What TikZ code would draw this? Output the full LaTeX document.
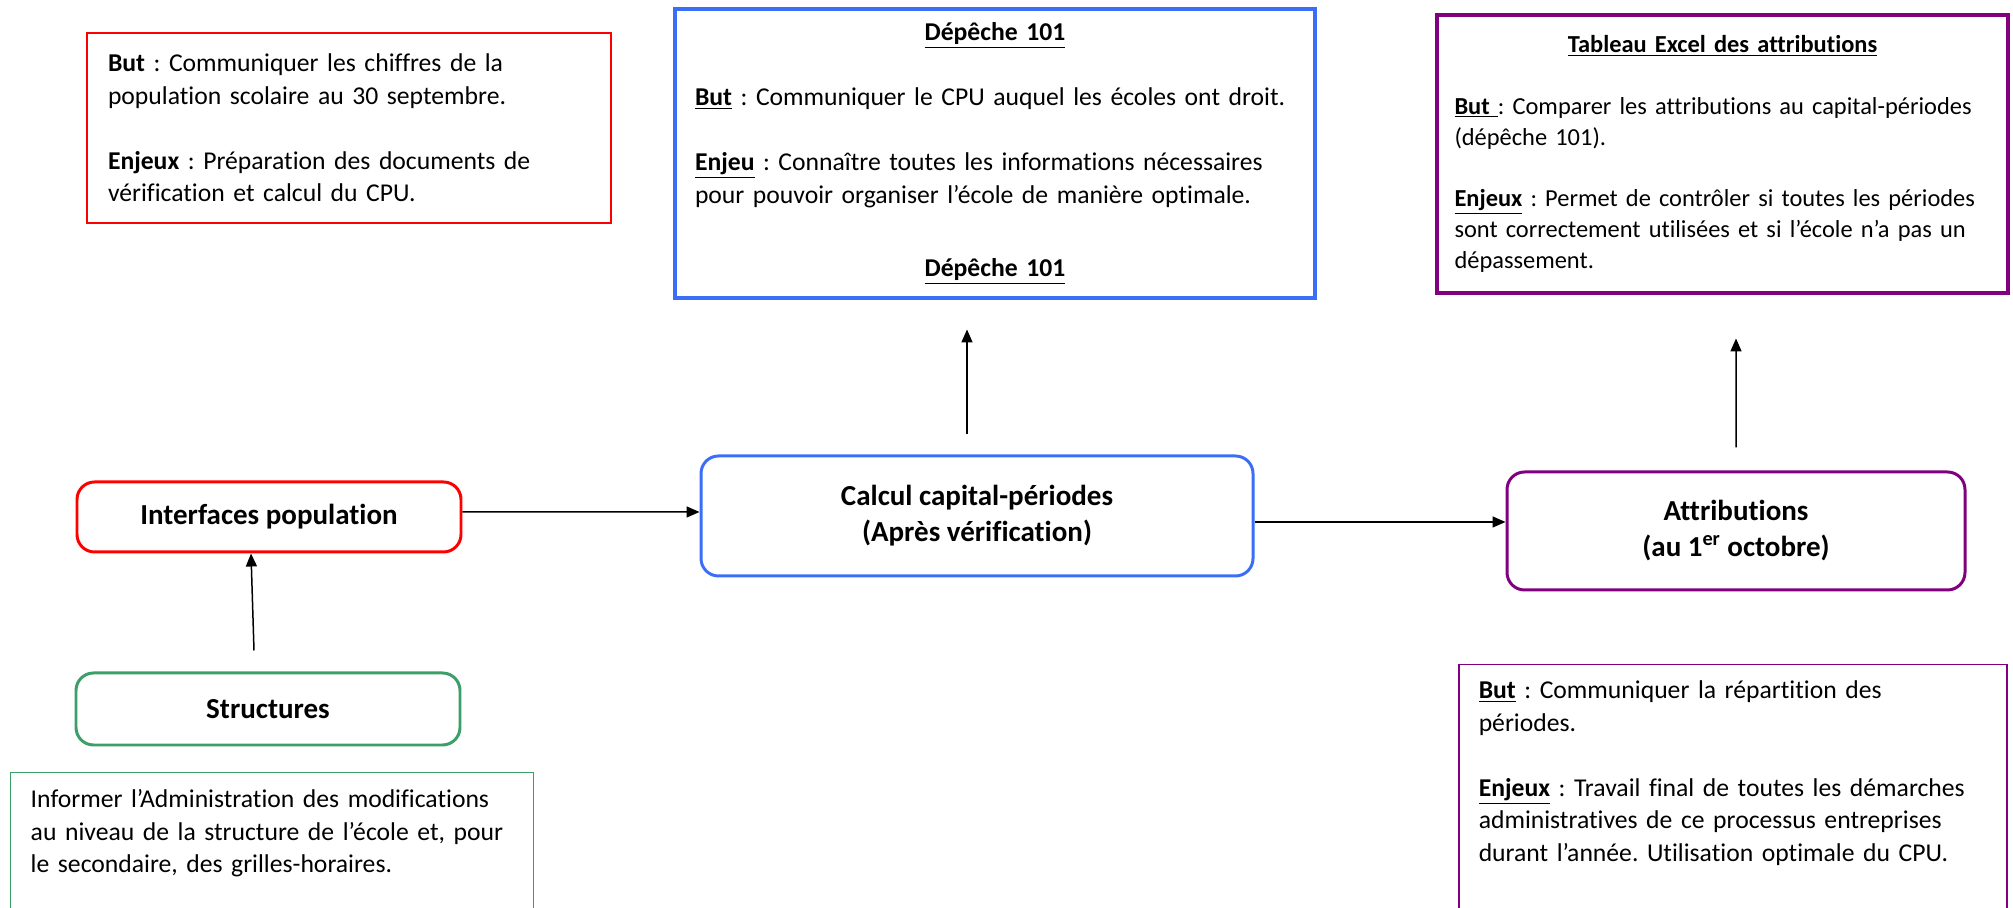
\documentclass[tikz,border=0pt]{standalone}
\usepackage{fontspec}
\setmainfont[Ligatures=NoCommon]{Carlito}
\frenchspacing
\usetikzlibrary{arrows.meta}
\definecolor{rouge}{RGB}{255,0,0}
\definecolor{bleu}{RGB}{59,110,246}
\definecolor{vert}{RGB}{60,158,104}
\definecolor{pourpre}{RGB}{128,0,128}
\tikzset{
    mybox/.style = {rectangle, rounded corners=0.35cm, line width=1.7pt, align=center, font=\fontsize{16.5}{20.5}\selectfont\bfseries},
    myboxr/.style = {mybox, draw=rouge, minimum width=7.68cm, minimum height=1.4cm},
    myboxg/.style = {mybox, draw=vert, minimum width=7.68cm, minimum height=1.44cm},
    myboxb/.style = {mybox, draw=bleu, minimum width=11.04cm, minimum height=2.4cm},
    myboxp/.style = {mybox, draw=pourpre, minimum width=9.16cm, minimum height=2.36cm},
    note/.style = {rectangle, align=left, inner xsep=0.4cm, font=\fontsize{14.6}{18.5}\selectfont},
    noter/.style = {note, draw=rouge, line width=0.85pt, text width=9.64cm, inner xsep=0.42cm, minimum height=3.8cm},
    noteb/.style = {note, draw=bleu, line width=2.8pt, text width=12.0cm, minimum height=5.78cm},
    notep/.style = {note, draw=pourpre, line width=2.8pt, text width=10.72cm, inner xsep=0.35cm, minimum height=5.56cm, font=\fontsize{13.9}{17.6}\selectfont},
    noteg/.style = {note, draw=vert, line width=0.85pt, text width=9.66cm, inner ysep=0.34cm, anchor=north west},
    notepp/.style = {note, draw=pourpre, line width=0.85pt, text width=10.16cm, inner ysep=0.32cm, anchor=north west},
    arrn/.style = {-{Triangle[length=0.26cm,width=0.22cm]}, line width=0.85pt, black}
}
\newcommand{\titre}[1]{\makebox[\linewidth]{\textbf{\underline{#1}}}}
\newcommand{\mot}[1]{\underline{\textbf{#1}}}

\begin{document}
\begin{tikzpicture}
\useasboundingbox (0,0) rectangle (40.26,18.16);
%
\node[myboxr] at (5.38, 7.82) (inter) {Interfaces population};
\node[myboxg] at (5.36, 3.98) (struct) {Structures};
\node[myboxb] at (19.54, 7.84) (calcul) {Calcul capital-périodes\\(Après vérification)};
\node[myboxp] at (34.72, 7.54) (attr) {Attributions\\(au 1\textsuperscript{er} octobre)};
%
\node[noter] at (6.98, 15.6) (butpop) {\textbf{But} : Communiquer les chiffres de la\\ population scolaire au 30 septembre.\\[\baselineskip]
\textbf{Enjeux} : Préparation des documents de\\ vérification et calcul du CPU.};
\node[noteb] at (19.9, 15.09) (depeche) {\titre{Dépêche 101}\\[\baselineskip]
\mot{But} : Communiquer le CPU auquel les écoles ont droit.\\[\baselineskip]
\mot{Enjeu} : Connaître toutes les informations nécessaires\\ pour pouvoir organiser l’école de manière optimale.\\[\dimexpr\baselineskip+5pt]
\titre{Dépêche 101}};
\node[notep] at (34.45, 15.08) (tableau) {\titre{Tableau Excel des attributions}\\[\baselineskip]
\mot{But }: Comparer les attributions au capital-périodes\\ (dépêche 101).\\[\baselineskip]
\mot{Enjeux} : Permet de contrôler si toutes les périodes\\ sont correctement utilisées et si l’école n’a pas un\\ dépassement.};
\node[noteg] at (0.2, 2.72) (info) {Informer l’Administration des modifications\\ au niveau de la structure de l’école et, pour\\ le secondaire, des grilles-horaires.\\[2\baselineskip]\mbox{}};
\node[notepp] at (29.16, 4.88) (repart) {\mot{But} : Communiquer la répartition des\\ périodes.\\[\baselineskip]
\mot{Enjeux} : Travail final de toutes les démarches\\ administratives de ce processus entreprises\\ durant l’année. Utilisation optimale du CPU.\\[\baselineskip]\mbox{}};
%
\coordinate (s1) at ([shift={(-0.28,0.42)}]struct.north);
\coordinate (c1) at ([shift={(-0.2,0.4)}]calcul.north);
\coordinate (c2) at ([shift={(-0.56,-0.58)}]depeche.south);
\coordinate (a1) at ([yshift=0.46cm]attr.north);
\coordinate (a2) at ([shift={(0.27,-0.86)}]tableau.south);
%
\draw[arrn] (s1) -- ([xshift=-0.36cm]inter.south);
\draw[arrn] ([yshift=0.1cm]inter.east) -- ([yshift=0.08cm]calcul.west);
\draw[arrn] ([yshift=-0.12cm]calcul.east) -- ([yshift=-0.12cm]calcul.east -| attr.west);
\draw[arrn] (c1) -- (c2);
\draw[arrn] (a1) -- (a2);

\end{tikzpicture}
\end{document}
